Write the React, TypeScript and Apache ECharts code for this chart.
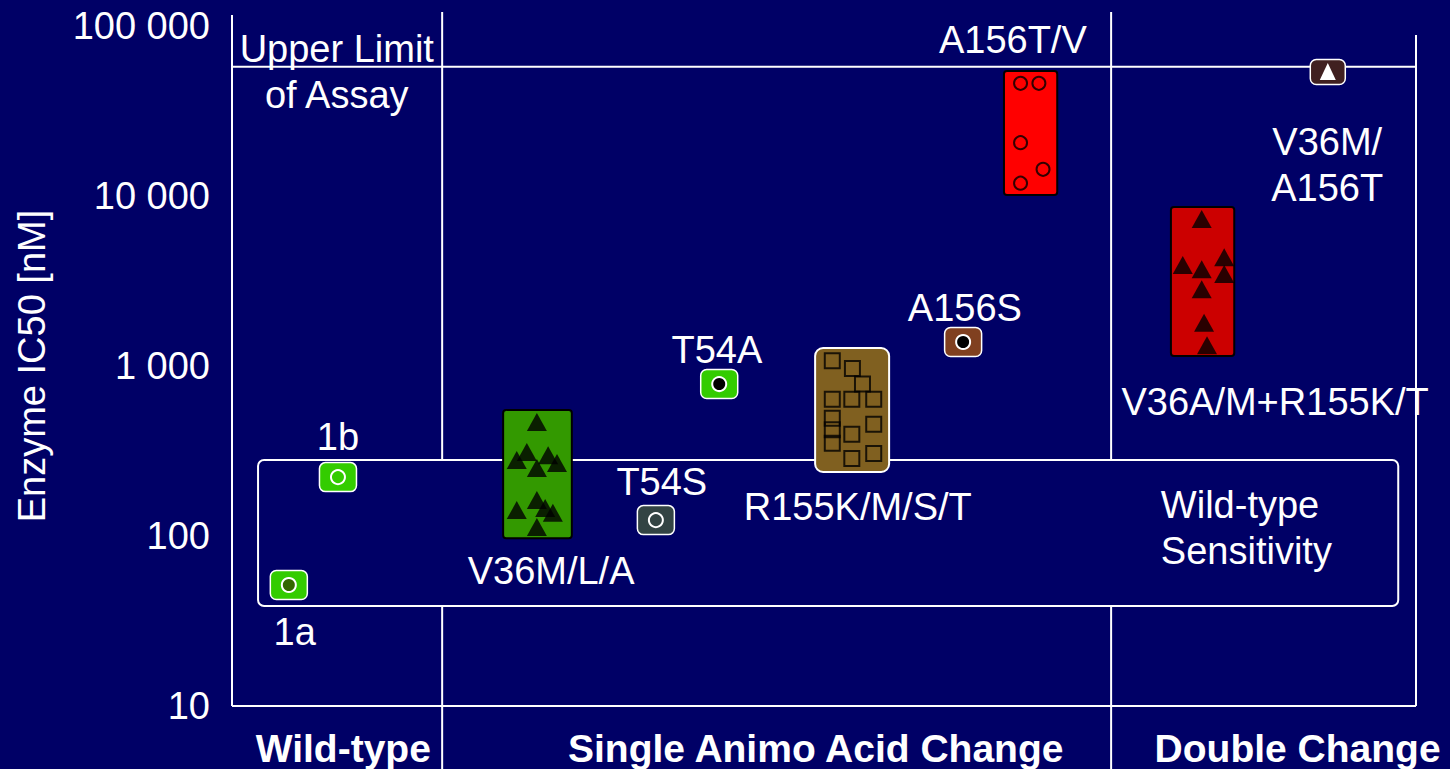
import React, { useEffect, useRef } from "react";
import * as echarts from "echarts";

const BG = "#000066";
const FONT = "'Liberation Sans', Arial, Helvetica, sans-serif";

// axes
const Y_MIN = 10;
const Y_MAX = 100000;
const X_MIN = 0;
const X_MAX = 20;
const yAxisTitle = "Enzyme IC50 [nM]";

// group layout (x in arbitrary category units)
const groupSeparators = [3.55, 14.85];
const groupTitles = ["Wild-type", "Single Animo Acid Change", "Double Change"];
const groupTitleX = [1.88, 9.86, 18.0];

const upperLimitOfAssay = 57500;

// wild-type sensitivity band [x0, x1, low, high]
const wildTypeBand = [0.44, 19.7, 38.7, 280];

// range boxes (IC50 ranges)
const boxNames = ["V36M/L/A", "R155K/M/S/T", "A156T/V", "V36A/M+R155K/T"];
const boxX0 = [4.58, 9.85, 13.04, 15.86];
const boxX1 = [5.74, 11.1, 13.94, 16.93];
const boxLow = [97, 238, 10140, 1145];
const boxHigh = [551, 1276, 54300, 8610];
const boxFill = ["#339900", "#806020", "#ff0000", "#cc0000"];
const boxStroke = ["#000000", "#ffffff", "#000000", "#000000"];

// individual isolates inside boxes
const v36X = [5.15, 4.81, 4.98, 5.34, 5.15, 5.49, 4.81, 5.15, 5.29, 5.42, 5.15];
const v36Y = [469, 280, 312, 299, 251, 269, 142, 163, 146, 137, 113];
const r155X = [10.14, 10.48, 10.65, 10.14, 10.47, 10.84, 10.14, 10.84, 10.14, 10.47, 10.14, 10.47, 10.84];
const r155Y = [1075, 968, 783, 637, 637, 637, 492, 454, 421, 397, 351, 286, 306];
const a156tX = [13.32, 13.63, 13.32, 13.7, 13.32];
const a156tY = [46000, 46000, 20600, 14350, 11900];
const doubleX = [16.38, 16.06, 16.38, 16.76, 16.76, 16.38, 16.42, 16.47];
const doubleY = [7330, 3930, 3705, 4355, 3475, 2825, 1799, 1324];

// single-value variants
const singleNames = ["1a", "1b", "T54S", "T54A", "A156S", "V36M/A156T"];
const singleX = [0.96, 1.79, 7.16, 8.23, 12.35, 18.51];
const singleY = [51.5, 222, 124, 783, 1384, 53600];
const singleFill = ["#33cc00", "#33cc00", "#334444", "#33cc00", "#804020", "#402020"];
const singleInnerFill = ["#336600", "#33cc00", "#334444", "#000000", "#000000", "#ffffff"];
const singleInnerShape = ["circle", "circle", "circle", "circle", "circle", "triangle"];

// text annotations
const labelTexts = [
  "Upper Limit\nof Assay",
  "1a",
  "1b",
  "V36M/L/A",
  "T54S",
  "T54A",
  "R155K/M/S/T",
  "A156S",
  "A156T/V",
  "V36M/\nA156T",
  "V36A/M+R155K/T",
  "Wild-type\nSensitivity",
];
const labelX = [1.77, 1.06, 1.79, 5.39, 7.26, 8.19, 10.57, 12.38, 13.19, 18.5, 17.62, 15.69];
const labelY = [53600, 27.2, 382, 62.2, 208, 1241, 148, 2193, 82800, 15200, 614, 111];
const labelAlign = ["center", "center", "center", "center", "center", "center", "center", "center", "center", "center", "center", "left"];

const fmtThousands = (v: number) => String(Math.round(v)).replace(/\B(?=(\d{3})+(?!\d))/g, " ");

export default function App() {
  const ref = useRef<HTMLDivElement>(null);

  useEffect(() => {
    document.body.style.margin = "0";
    document.body.style.background = BG;
    if (!ref.current) return;
    const chart = echarts.init(ref.current, undefined, { renderer: "svg" });

    const line = (x1: number, y1: number, x2: number, y2: number) => ({
      type: "line",
      shape: { x1, y1, x2, y2 },
      style: { stroke: "#ffffff", lineWidth: 2 },
    });

    const option: any = {
      animation: false,
      backgroundColor: BG,
      grid: { left: 232, right: 34, top: 26, bottom: 63, containLabel: false, outerBoundsMode: "none" },
      xAxis: {
        type: "value",
        min: X_MIN,
        max: X_MAX,
        axisLine: { show: false },
        axisTick: { show: false },
        splitLine: { show: false },
        axisLabel: {
          show: true,
          customValues: groupTitleX,
          formatter: (v: number) => {
            const i = groupTitleX.findIndex((g) => Math.abs(g - v) < 1e-6);
            return i >= 0 ? groupTitles[i] : "";
          },
          color: "#ffffff",
          fontFamily: FONT,
          fontWeight: "bold",
          fontSize: 39,
          margin: 23,
          hideOverlap: false,
        },
      },
      yAxis: {
        type: "log",
        logBase: 10,
        min: Y_MIN,
        max: Y_MAX,
        name: yAxisTitle,
        nameLocation: "middle",
        nameGap: 181,
        nameTextStyle: { color: "#ffffff", fontFamily: FONT, fontSize: 38 },
        axisLine: { show: false },
        axisTick: { show: false },
        splitLine: { show: false },
        axisLabel: {
          color: "#ffffff",
          fontFamily: FONT,
          fontSize: 38,
          margin: 22,
          formatter: (v: number) => fmtThousands(v),
        },
      },
      series: [
        {
          type: "custom",
          name: "frame",
          z: 1,
          silent: true,
          data: [[X_MIN, Y_MIN]],
          renderItem: (params: any, api: any) => {
            const cs = params.coordSys;
            const H = api.getHeight();
            const bottom = cs.y + cs.height;
            const right = cs.x + cs.width;
            const children: any[] = [];
            children.push(line(cs.x, cs.y - 11, cs.x, bottom));
            children.push(line(right, cs.y + 9, right, bottom));
            children.push(line(cs.x, bottom, right, bottom));
            groupSeparators.forEach((sx) => {
              const px = api.coord([sx, Y_MIN])[0];
              children.push(line(px, cs.y - 14, px, H));
            });
            const uy = api.coord([X_MIN, upperLimitOfAssay])[1];
            children.push(line(cs.x, uy, right, uy));
            return { type: "group", children };
          },
        },
        {
          type: "custom",
          name: "Wild-type Sensitivity",
          z: 2,
          silent: true,
          data: [wildTypeBand],
          renderItem: (params: any, api: any) => {
            const p0 = api.coord([api.value(0), api.value(3)]);
            const p1 = api.coord([api.value(1), api.value(2)]);
            return {
              type: "rect",
              shape: { x: p0[0], y: p0[1], width: p1[0] - p0[0], height: p1[1] - p0[1], r: 6 },
              style: { fill: BG, stroke: "#ffffff", lineWidth: 2 },
            };
          },
        },
        {
          type: "custom",
          name: "ranges",
          z: 3,
          data: boxNames.map((n, i) => ({ name: n, value: [boxX0[i], boxX1[i], boxLow[i], boxHigh[i], i] })),
          encode: { x: [0, 1], y: [2, 3] },
          renderItem: (params: any, api: any) => {
            const i = api.value(4);
            const p0 = api.coord([api.value(0), api.value(3)]);
            const p1 = api.coord([api.value(1), api.value(2)]);
            return {
              type: "rect",
              shape: {
                x: p0[0],
                y: p0[1],
                width: p1[0] - p0[0],
                height: p1[1] - p0[1],
                r: boxStroke[i] === "#ffffff" ? 8 : 3,
              },
              style: { fill: boxFill[i], stroke: boxStroke[i], lineWidth: 2 },
            };
          },
        },
        {
          type: "scatter",
          name: "V36M/L/A isolates",
          z: 4,
          symbol: "triangle",
          symbolSize: [20, 18],
          itemStyle: { color: "#000000" },
          data: v36X.map((x, i) => [x, v36Y[i]]),
        },
        {
          type: "scatter",
          name: "R155K/M/S/T isolates",
          z: 4,
          symbol: "rect",
          symbolSize: 15,
          itemStyle: { color: "rgba(0,0,0,0)", borderColor: "#000000", borderWidth: 2 },
          data: r155X.map((x, i) => [x, r155Y[i]]),
        },
        {
          type: "scatter",
          name: "A156T/V isolates",
          z: 4,
          symbol: "circle",
          symbolSize: 13,
          itemStyle: { color: "rgba(0,0,0,0)", borderColor: "#000000", borderWidth: 2 },
          data: a156tX.map((x, i) => [x, a156tY[i]]),
        },
        {
          type: "scatter",
          name: "Double change isolates",
          z: 4,
          symbol: "triangle",
          symbolSize: [20, 18],
          itemStyle: { color: "#000000" },
          data: doubleX.map((x, i) => [x, doubleY[i]]),
        },
        {
          type: "custom",
          name: "single variants",
          z: 5,
          data: singleNames.map((n, i) => ({ name: n, value: [singleX[i], singleY[i], i] })),
          encode: { x: 0, y: 1 },
          renderItem: (params: any, api: any) => {
            const i = api.value(2);
            const [cx, cy] = api.coord([api.value(0), api.value(1)]);
            const w = i === 5 ? 35 : 37;
            const h = i === 5 ? 25 : 29;
            const children: any[] = [
              {
                type: "rect",
                shape: { x: cx - w / 2, y: cy - h / 2, width: w, height: h, r: 6 },
                style: { fill: singleFill[i], stroke: "#ffffff", lineWidth: 1.5 },
              },
            ];
            if (singleInnerShape[i] === "triangle") {
              children.push({
                type: "polygon",
                shape: { points: [[cx, cy - 9], [cx + 8, cy + 8], [cx - 8, cy + 8]] },
                style: { fill: singleInnerFill[i] },
              });
            } else {
              children.push({
                type: "circle",
                shape: { cx, cy, r: 7 },
                style: { fill: singleInnerFill[i], stroke: "#ffffff", lineWidth: 2 },
              });
            }
            return { type: "group", children };
          },
        },
        {
          type: "custom",
          name: "labels",
          z: 6,
          silent: true,
          data: labelTexts.map((t, i) => [labelX[i], labelY[i], i]),
          renderItem: (params: any, api: any) => {
            const i = api.value(2);
            const [x, y] = api.coord([api.value(0), api.value(1)]);
            return {
              type: "text",
              x,
              y,
              style: {
                text: labelTexts[i],
                fill: "#ffffff",
                fontFamily: FONT,
                fontSize: 38,
                lineHeight: 46,
                align: labelAlign[i],
                verticalAlign: "middle",
              },
            };
          },
        },
      ],
    };

    chart.setOption(option);
    return () => chart.dispose();
  }, []);

  return <div ref={ref} style={{ width: 1450, height: 769 }} />;
}
